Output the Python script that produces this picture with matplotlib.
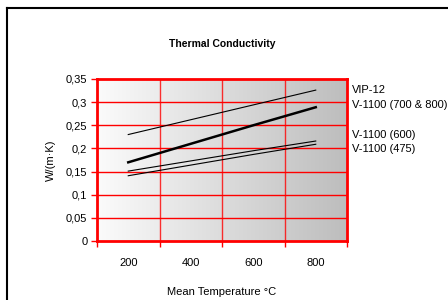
import numpy as np
import matplotlib
matplotlib.use("Agg")
import matplotlib.pyplot as plt
from matplotlib.lines import Line2D
from matplotlib.colors import LinearSegmentedColormap

plt.rcParams['font.family'] = ['Liberation Sans', 'DejaVu Sans']

temps = ["200", "400", "600", "800"]
vip12 = [0.230, 0.262, 0.294, 0.326]
v1100_700_800 = [0.170, 0.210, 0.250, 0.289]
v1100_600 = [0.151, 0.173, 0.195, 0.216]
v1100_475 = [0.141, 0.164, 0.187, 0.209]
series_names = ["VIP-12", "V-1100 (700 & 800)", "V-1100 (600)", "V-1100 (475)"]
y_ticks = [0, 0.05, 0.1, 0.15, 0.2, 0.25, 0.3, 0.35]
y_tick_labels = ["0", "0,05", "0,1", "0,15", "0,2", "0,25", "0,3", "0,35"]

fig = plt.figure(figsize=(4.48, 3.0), dpi=100)
ax = fig.add_axes([97/448, 1-241/300, 250/448, 162/300])

x = np.arange(1, len(temps) + 1)
ax.set_xlim(0.5, len(temps) + 0.5)
ax.set_ylim(0, 0.35)

# gradient background
grad = np.linspace(0, 1, 256).reshape(1, -1)
cmap = LinearSegmentedColormap.from_list("g", ["#fbfbfb", "#bdbdbd"])
ax.imshow(grad, cmap=cmap, aspect='auto', extent=[0.5, len(temps) + 0.5, 0, 0.35], zorder=0)

red = "#ff0000"
for yv in y_ticks[1:-1]:
    ax.axhline(yv, color=red, lw=1.0, zorder=1)
for xv in np.arange(1.5, len(temps), 1.0):
    ax.axvline(xv, color=red, lw=1.0, alpha=0.8, zorder=1)
for s in ax.spines.values():
    s.set_color(red)
    s.set_linewidth(2.0)

ax.plot(x, vip12, color='black', lw=0.8, zorder=3)
ax.plot(x, v1100_700_800, color='black', lw=1.8, zorder=3)
ax.plot(x, v1100_600, color='black', lw=0.8, zorder=3)
ax.plot(x, v1100_475, color='black', lw=0.8, zorder=3)

ax.set_yticks(y_ticks)
ax.set_yticklabels(y_tick_labels, fontsize=8)
ax.set_xticks(np.arange(0.5, len(temps) + 1, 1.0))
ax.set_xticklabels([])
ax.set_xticks(x, minor=True)
ax.set_xticklabels(temps, minor=True, fontsize=8)
ax.tick_params(axis='x', which='minor', length=0, pad=12)
ax.tick_params(axis='x', which='major', length=4, color=red, width=1.0, direction='out')
ax.tick_params(axis='y', length=4, color=red, width=1.0, pad=3)

ax.set_title("Thermal Conductivity", fontsize=7.5, fontweight='bold', pad=23)
ax.set_ylabel("W/(m·K)", fontsize=8, labelpad=7)
ax.set_xlabel("Mean Temperature °C", fontsize=8, labelpad=14)

label_y = [90, 105, 135, 149]
for name, py in zip(series_names, label_y):
    fig.text(352/448, 1 - py/300, name, fontsize=8, va='center', ha='left')

# outer frame
fig.add_artist(Line2D([7/448, 7/448], [0, 1 - 8/300], transform=fig.transFigure, color='black', lw=1.5))
fig.add_artist(Line2D([7/448, 1], [1 - 8/300, 1 - 8/300], transform=fig.transFigure, color='black', lw=1.5))

fig.savefig("out.png", dpi=100)
